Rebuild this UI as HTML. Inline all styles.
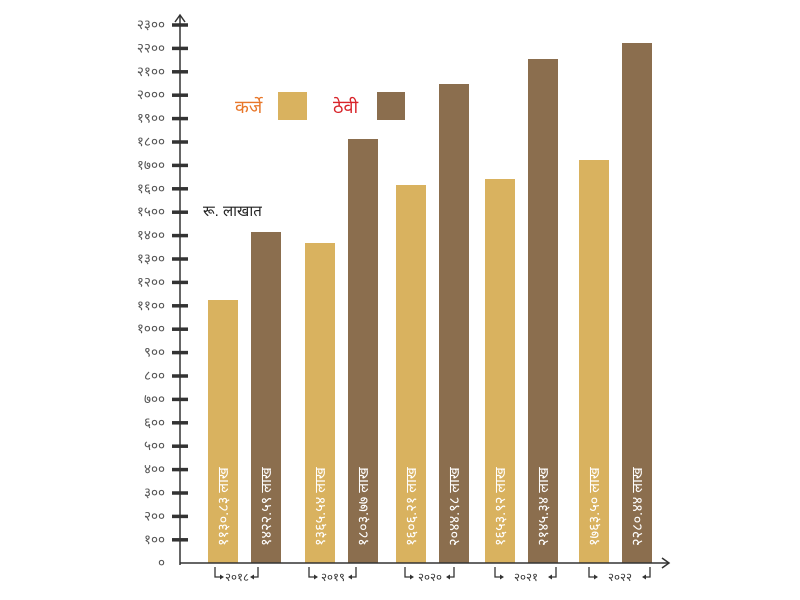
<!DOCTYPE html>
<html><head><meta charset="utf-8"><style>
body{margin:0;background:#fff}
svg{display:block}
text{font-family:"Liberation Sans","Noto Sans CJK SC",sans-serif}
</style></head><body>
<svg width="800" height="600" viewBox="0 0 800 600">
<g fill="#D9B25F">
<rect x="208" y="300" width="30" height="263"/>
<rect x="305" y="243" width="30" height="320"/>
<rect x="396" y="185" width="30" height="378"/>
<rect x="485" y="179" width="30" height="384"/>
<rect x="579" y="160" width="30" height="403"/>
<rect x="278" y="92" width="29" height="28"/>
</g>
<g fill="#8B6E4E">
<rect x="251" y="232" width="30" height="331"/>
<rect x="348" y="139" width="30" height="424"/>
<rect x="439" y="84" width="30" height="479"/>
<rect x="528" y="59" width="30" height="504"/>
<rect x="622" y="43" width="30" height="520"/>
<rect x="377" y="92" width="28" height="28"/>
</g>
<g fill="#fff" font-size="14.5">
<text transform="translate(228,546) rotate(-90)">११३०.८३ लाख</text>
<text transform="translate(271,546) rotate(-90)">१४२२.५९ लाख</text>
<text transform="translate(325,546) rotate(-90)">१३६५.५४ लाख</text>
<text transform="translate(368,546) rotate(-90)">१८०३.७७ लाख</text>
<text transform="translate(416,546) rotate(-90)">१६०६.२१ लाख</text>
<text transform="translate(459,546) rotate(-90)">२०४४.९८ लाख</text>
<text transform="translate(505,546) rotate(-90)">१६५३.९२ लाख</text>
<text transform="translate(548,546) rotate(-90)">२१४५.३४ लाख</text>
<text transform="translate(599,546) rotate(-90)">१७६३.५० लाख</text>
<text transform="translate(642,546) rotate(-90)">२२८०.४४ लाख</text>
</g>
<g stroke="#333" stroke-width="1.5" fill="none">
<line x1="180" y1="565" x2="180" y2="15"/>
<polyline points="175,22 180,15 185,22"/>
<line x1="180" y1="563" x2="668" y2="563"/>
<polyline points="662,558 669,563 662,568"/>
</g>
<g stroke="#333" stroke-width="3.5">
<line x1="172" y1="25" x2="188" y2="25"/><line x1="172" y1="48.4" x2="188" y2="48.4"/><line x1="172" y1="71.8" x2="188" y2="71.8"/><line x1="172" y1="95.2" x2="188" y2="95.2"/><line x1="172" y1="118.6" x2="188" y2="118.6"/><line x1="172" y1="142" x2="188" y2="142"/><line x1="172" y1="165.4" x2="188" y2="165.4"/><line x1="172" y1="188.8" x2="188" y2="188.8"/><line x1="172" y1="212.2" x2="188" y2="212.2"/><line x1="172" y1="235.6" x2="188" y2="235.6"/><line x1="172" y1="259" x2="188" y2="259"/><line x1="172" y1="282.4" x2="188" y2="282.4"/><line x1="172" y1="305.8" x2="188" y2="305.8"/><line x1="172" y1="329.2" x2="188" y2="329.2"/><line x1="172" y1="352.6" x2="188" y2="352.6"/><line x1="172" y1="376" x2="188" y2="376"/><line x1="172" y1="399.4" x2="188" y2="399.4"/><line x1="172" y1="422.8" x2="188" y2="422.8"/><line x1="172" y1="446.2" x2="188" y2="446.2"/><line x1="172" y1="469.6" x2="188" y2="469.6"/><line x1="172" y1="493" x2="188" y2="493"/><line x1="172" y1="516.4" x2="188" y2="516.4"/><line x1="172" y1="539.8" x2="188" y2="539.8"/>
</g>
<g font-size="13.5" fill="#555" text-anchor="end">
<text x="165" y="29">२३००</text><text x="165" y="52.4">२२००</text><text x="165" y="75.8">२१००</text><text x="165" y="99.2">२०००</text><text x="165" y="122.6">१९००</text><text x="165" y="146">१८००</text><text x="165" y="169.4">१७००</text><text x="165" y="192.8">१६००</text><text x="165" y="216.2">१५००</text><text x="165" y="239.6">१४००</text><text x="165" y="263">१३००</text><text x="165" y="286.4">१२००</text><text x="165" y="309.8">११००</text><text x="165" y="333.2">१०००</text><text x="165" y="356.6">९००</text><text x="165" y="380">८००</text><text x="165" y="403.4">७००</text><text x="165" y="426.8">६००</text><text x="165" y="450.2">५००</text><text x="165" y="473.6">४००</text><text x="165" y="497">३००</text><text x="165" y="520.4">२००</text><text x="165" y="543.8">१००</text><text x="165" y="567">०</text>
</g>
<g stroke="#333" stroke-width="1.3" fill="none">
<polyline points="215,567 215,577 221,577"/><polyline points="258,567 258,577 253,577"/>
<polyline points="309,567 309,577 315,577"/><polyline points="356,567 356,577 351,577"/>
<polyline points="405,567 405,577 411,577"/><polyline points="454,567 454,577 449,577"/>
<polyline points="495,567 495,577 501,577"/><polyline points="556,567 556,577 551,577"/>
<polyline points="589,567 589,577 595,577"/><polyline points="650,567 650,577 645,577"/>
</g>
<g fill="#333">
<polygon points="224,577 220,574.5 220,579.5"/><polygon points="250,577 254,574.5 254,579.5"/>
<polygon points="318,577 314,574.5 314,579.5"/><polygon points="348,577 352,574.5 352,579.5"/>
<polygon points="414,577 410,574.5 410,579.5"/><polygon points="446,577 450,574.5 450,579.5"/>
<polygon points="504,577 500,574.5 500,579.5"/><polygon points="548,577 552,574.5 552,579.5"/>
<polygon points="598,577 594,574.5 594,579.5"/><polygon points="642,577 646,574.5 646,579.5"/>
</g>
<g font-size="11.5" fill="#333" text-anchor="middle">
<text x="237" y="581">२०१८</text><text x="333" y="581">२०१९</text><text x="430" y="581">२०२०</text><text x="526" y="581">२०२१</text><text x="620" y="581">२०२२</text>
</g>
<text x="235" y="113" font-size="18" fill="#E8772A">कर्जे</text>
<text x="333" y="113" font-size="18" fill="#D8242A">ठेवी</text>
<text x="203" y="216" font-size="15" fill="#222">रू. लाखात</text>
</svg>
</body></html>
